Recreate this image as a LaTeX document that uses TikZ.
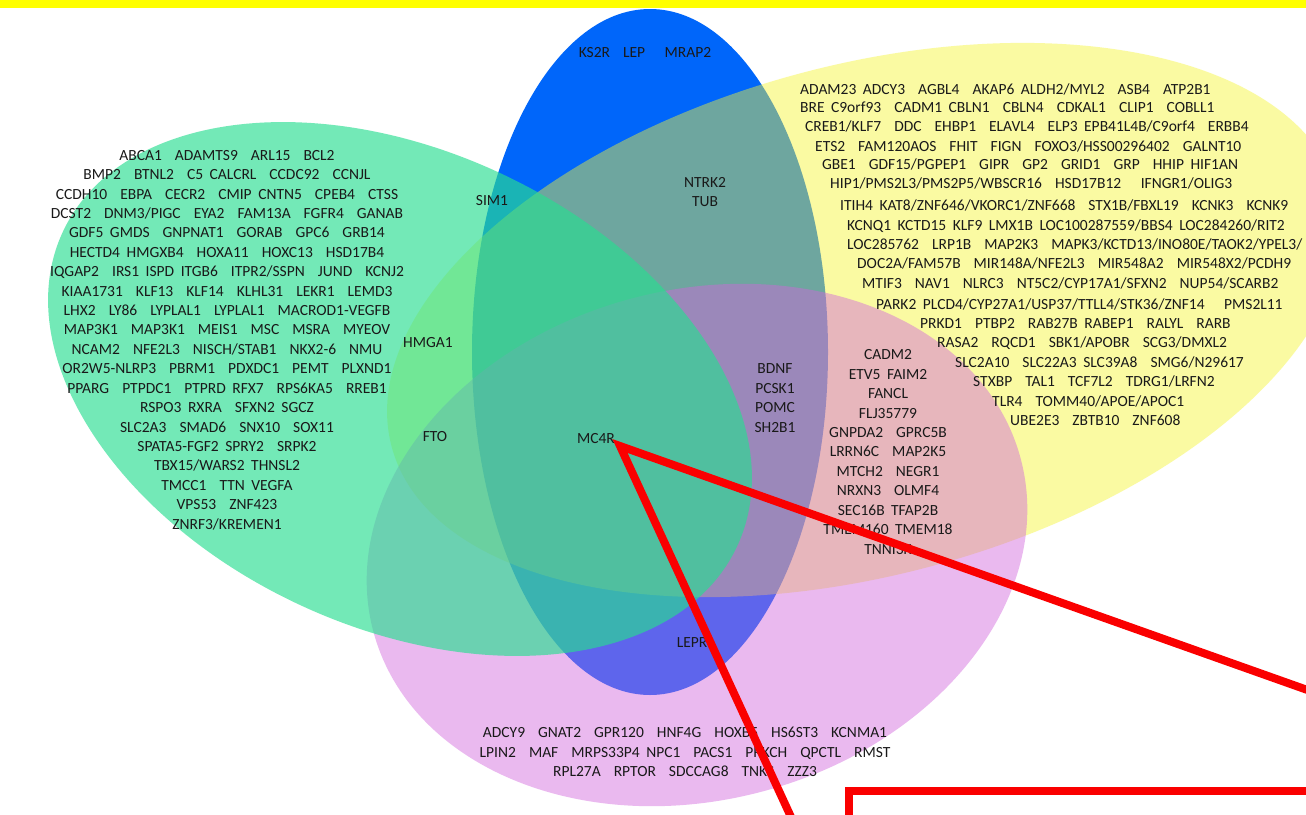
\documentclass[tikz,border=0pt]{standalone}
\usepackage{fontspec}
\setmainfont{Carlito}
\definecolor{cblue}{RGB}{0,102,250}
\definecolor{cyel}{RGB}{245,245,50}
\definecolor{cpink}{RGB}{210,100,220}
\definecolor{cgreen}{RGB}{40,222,145}
\definecolor{txt}{RGB}{25,25,25}
\definecolor{band}{RGB}{255,255,0}
\definecolor{cred}{RGB}{250,0,0}
\newcommand\vdfont{\fontsize{15.5}{19.42}\selectfont\spaceskip 0.42em\relax}
\begin{document}
\begin{tikzpicture}[x=1pt,y=-1pt,
  lbl/.style={font=\vdfont, text=txt, inner sep=0pt, align=center},
  yl/.style={lbl, anchor=west, text height=10pt, text depth=2pt},
  redline/.style={draw=cred, line width=8pt},
  setfill/.style={fill=#1, fill opacity=0.45}]
\useasboundingbox (0,0) rectangle (1306,814);
\fill[white] (0,0) rectangle (1306,814);
% sets
\fill[cblue] (650,352) ellipse [x radius=178pt, y radius=343pt];
\fill[setfill=cyel, rotate around={15:(865,320)}] (865,320) ellipse [x radius=490pt, y radius=255pt];
\fill[setfill=cpink, rotate around={15:(697,545)}] (697,545) ellipse [x radius=335pt, y radius=255pt];
\fill[fill=cgreen, fill opacity=0.65, rotate around={-25:(400,389)}] (400,389) ellipse [x radius=372pt, y radius=238pt];
% top band
\fill[band] (0,0) rectangle (1306,8);
% labels
\node[lbl] (blueonly) at (645,53) {KS2R\ \ LEP\ \ \ MRAP2};
\node[lbl] (by) at (705,192) {NTRK2\\TUB};
\node[lbl] (sim) at (492,201) {SIM1};
\node[lbl] (hmga) at (428,343) {HMGA1};
\node[lbl] (fto) at (435,437) {FTO};
\node[lbl] (mc4r) at (596,439) {MC4R};
\node[lbl] (bdnf) at (775,398) {BDNF\\PCSK1\\POMC\\SH2B1};
\node[lbl] (lepr) at (692,643) {LEPR};
\node[lbl] (green) at (227,340) {ABCA1\ \ ADAMTS9\ \ ARL15\ \ BCL2\\
BMP2\ \ BTNL2\ \ C5 CALCRL\ \ CCDC92\ \ CCNJL\\
CCDH10\ \ EBPA\ \ CECR2\ \ CMIP CNTN5\ \ CPEB4\ \ CTSS\\
DCST2\ \ DNM3/PIGC\ \ EYA2\ \ FAM13A\ \ FGFR4\ \ GANAB\\
GDF5 GMDS\ \ GNPNAT1\ \ GORAB\ \ GPC6\ \ GRB14\\
HECTD4 HMGXB4\ \ HOXA11\ \ HOXC13\ \ HSD17B4\\
IQGAP2\ \ IRS1 ISPD ITGB6\ \ ITPR2/SSPN\ \ JUND\ \ KCNJ2\\
KIAA1731\ \ KLF13\ \ KLF14\ \ KLHL31\ \ LEKR1\ \ LEMD3\\
LHX2\ \ LY86\ \ LYPLAL1\ \ LYPLAL1\ \ MACROD1-VEGFB\\
MAP3K1\ \ MAP3K1\ \ MEIS1\ \ MSC\ \ MSRA\ \ MYEOV\\
NCAM2\ \ NFE2L3\ \ NISCH/STAB1\ \ NKX2-6\ \ NMU\\
OR2W5-NLRP3\ \ PBRM1\ \ PDXDC1\ \ PEMT\ \ PLXND1\\
PPARG\ \ PTPDC1\ \ PTPRD RFX7\ \ RPS6KA5\ \ RREB1\\
RSPO3 RXRA\ \ SFXN2 SGCZ\\
SLC2A3\ \ SMAD6\ \ SNX10\ \ SOX11\\
SPATA5-FGF2 SPRY2\ \ SRPK2\\
TBX15/WARS2 THNSL2\\
TMCC1\ \ TTN VEGFA\\
VPS53\ \ ZNF423\\
ZNRF3/KREMEN1};
\node[lbl] (pinkyel) at (888,452) {CADM2\\ETV5 FAIM2\\FANCL\\FLJ35779\\GNPDA2\ \ GPRC5B\\LRRN6C\ \ MAP2K5\\MTCH2\ \ NEGR1\\NRXN3\ \ OLMF4\\SEC16B TFAP2B\\TMEM160 TMEM18\\TNNI3K};
\node[lbl] (pinkonly) at (685,752) {ADCY9\ \ GNAT2\ \ GPR120\ \ HNF4G\ \ HOXB5\ \ HS6ST3\ \ KCNMA1\\
LPIN2\ \ MAF\ \ MRPS33P4 NPC1\ \ PACS1\ \ PRKCH\ \ QPCTL\ \ RMST\\
RPL27A\ \ RPTOR\ \ SDCCAG8\ \ TNKS\ \ ZZZ3};
\node[yl] (y1) at (800,90) {ADAM23 ADCY3\ \ AGBL4\ \ AKAP6 ALDH2/MYL2\ \ ASB4\ \ ATP2B1};
\node[yl] (y2) at (800,108) {BRE C9orf93\ \ CADM1 CBLN1\ \ CBLN4\ \ CDKAL1\ \ CLIP1\ \ COBLL1};
\node[yl] (y3) at (805,127) {CREB1/KLF7\ \ DDC\ \ EHBP1\ \ ELAVL4\ \ ELP3 EPB41L4B/C9orf4\ \ ERBB4};
\node[yl] (y4) at (815,147) {ETS2\ \ FAM120AOS\ \ FHIT\ \ FIGN\ \ FOXO3/HSS00296402\ \ GALNT10};
\node[yl] (y5) at (822,165) {GBE1\ \ GDF15/PGPEP1\ \ GIPR\ \ GP2\ \ GRID1\ \ GRP\ \ HHIP HIF1AN};
\node[yl] (y6) at (830,184) {HIP1/PMS2L3/PMS2P5/WBSCR16\ \ HSD17B12\ \ \ IFNGR1/OLIG3};
\node[yl] (y7) at (840,206) {ITIH4 KAT8/ZNF646/VKORC1/ZNF668\ \ STX1B/FBXL19\ \ KCNK3\ \ KCNK9};
\node[yl] (y8) at (847,226) {KCNQ1 KCTD15 KLF9 LMX1B LOC100287559/BBS4 LOC284260/RIT2};
\node[yl] (y9) at (847,245) {LOC285762\ \ LRP1B\ \ MAP2K3\ \ MAPK3/KCTD13/INO80E/TAOK2/YPEL3/};
\node[yl] (y10) at (857,264) {DOC2A/FAM57B\ \ MIR148A/NFE2L3\ \ MIR548A2\ \ MIR548X2/PCDH9};
\node[yl] (y11) at (862,284) {MTIF3\ \ NAV1\ \ NLRC3\ \ NT5C2/CYP17A1/SFXN2\ \ NUP54/SCARB2};
\node[yl] (y12) at (876,305) {PARK2 PLCD4/CYP27A1/USP37/TTLL4/STK36/ZNF14\ \ \ PMS2L11};
\node[yl] (y13) at (920,324) {PRKD1\ \ PTBP2\ \ RAB27B RABEP1\ \ RALYL\ \ RARB};
\node[yl] (y14) at (937,343) {RASA2\ \ RQCD1\ \ SBK1/APOBR\ \ SCG3/DMXL2};
\node[yl] (y15) at (955,363) {SLC2A10\ \ SLC22A3 SLC39A8\ \ SMG6/N29617};
\node[yl] (y16) at (973,382) {STXBP\ \ TAL1\ \ TCF7L2\ \ TDRG1/LRFN2};
\node[yl] (y17) at (992,402) {TLR4\ \ TOMM40/APOE/APOC1};
\node[yl] (y18) at (1010,421) {UBE2E3\ \ ZBTB10\ \ ZNF608};
% red callout
\coordinate (tip) at (620,446);
\coordinate (endA) at (797,830);
\coordinate (endB) at (1330,698);
\draw[redline] (endA) -- (tip) -- (endB);
\draw[redline] (1330,791) -- (849,791) -- (849,830);
\end{tikzpicture}
\end{document}
